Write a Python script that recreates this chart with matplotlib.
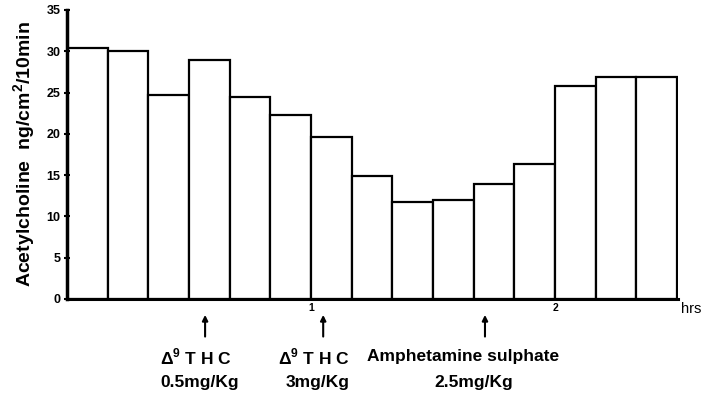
import matplotlib.pyplot as plt
import numpy as np
from matplotlib.transforms import blended_transform_factory

# acetylcholine output per 10 min collection period
acetylcholine = [30.4, 30.0, 24.7, 28.9, 24.5, 22.3, 19.6, 14.9,
                 11.7, 12.0, 13.9, 16.3, 25.8, 26.9, 26.9]
period_hrs = 10 / 60

# drug administrations (hrs) and their labels
dose_times = [0.566, 1.05, 1.713]
dose_names = [r"$\Delta^9$ T H C", r"$\Delta^9$ T H C", "Amphetamine sulphate"]
dose_amounts = ["0.5mg/Kg", "3mg/Kg", "2.5mg/Kg"]
name_shift = [-0.037, -0.037, -0.09]
amount_shift = [-0.021, -0.021, -0.045]

plt.rcParams['font.family'] = 'Liberation Sans'
plt.rcParams['mathtext.fontset'] = 'custom'
plt.rcParams['mathtext.rm'] = 'Liberation Sans'
plt.rcParams['mathtext.bf'] = 'Liberation Sans:bold'
plt.rcParams['font.weight'] = 'bold'

fig = plt.figure(figsize=(7.05, 3.93), dpi=100)
ax = fig.add_axes([0.095, 0.2392, 0.8667, 0.7354])

starts = np.arange(len(acetylcholine)) * period_hrs
ax.bar(starts, acetylcholine, width=period_hrs, align='edge',
       facecolor='white', edgecolor='black', linewidth=1.6)

ax.set_xlim(0, 2.504)
ax.set_ylim(0, 35)

for side in ['top', 'right']:
    ax.spines[side].set_visible(False)
ax.spines['left'].set_linewidth(2.5)
ax.spines['bottom'].set_linewidth(2.2)

ax.set_yticks(np.arange(0, 36, 5))
ax.tick_params(axis='y', direction='inout', length=5, width=1.5,
               labelsize=9, pad=2)
ax.set_xticks([1, 2])
ax.set_xticklabels(['1', '2'], fontsize=7.5, fontweight='bold')
ax.tick_params(axis='x', length=0, pad=3)

ax.set_ylabel(r"Acetylcholine  ng/cm$^\mathbf{2}$/10min", fontsize=14,
              fontweight='bold', labelpad=6)

trans = blended_transform_factory(ax.transData, ax.transAxes)
ax.text(2.515, -0.01, "hrs", transform=trans,
        fontsize=10.5, va='top', ha='left', fontweight='normal')

for t, name, amount, dn, da in zip(dose_times, dose_names, dose_amounts,
                                   name_shift, amount_shift):
    ax.annotate("", xy=(t, -0.055), xytext=(t, -0.13), xycoords=trans,
                textcoords=trans,
                arrowprops=dict(arrowstyle='-|>', color='black', lw=1.5,
                                mutation_scale=8, shrinkA=0, shrinkB=0),
                annotation_clip=False)
    ax.text(t + dn, -0.20, name, transform=trans, ha='center', va='center',
            fontsize=12.5, fontweight='bold')
    ax.text(t + da, -0.29, amount, transform=trans, ha='center',
            va='center', fontsize=12.5, fontweight='bold')

fig.savefig('out.png', dpi=100)
